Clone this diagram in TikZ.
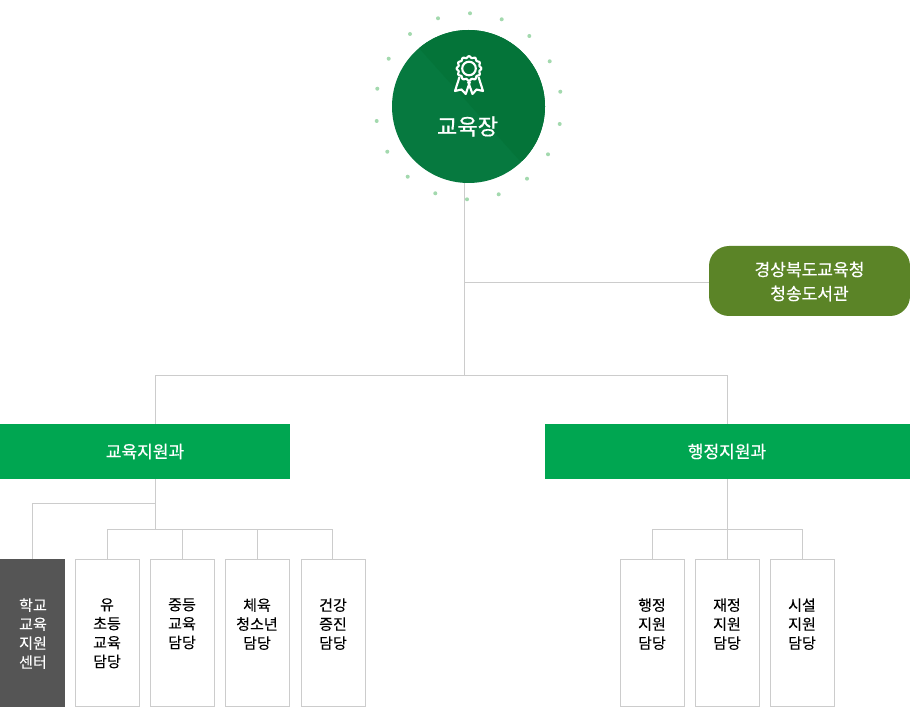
\documentclass[tikz,border=0pt]{standalone}
\usepackage{fontspec}
\setmainfont{Noto Sans CJK KR}
\newfontfamily\medfont[FakeBold=0.5]{Noto Sans CJK KR}
\newfontfamily\stafffont[FakeBold=0.15]{Noto Sans CJK KR}
\usetikzlibrary{backgrounds,positioning}

\definecolor{headgreen}{HTML}{06793F}
\definecolor{headdark}{HTML}{047439}
\definecolor{dotgreen}{HTML}{A3D9AE}
\definecolor{linegray}{HTML}{CCCCCC}
\definecolor{deptgreen}{HTML}{00A651}
\definecolor{libgreen}{HTML}{5B8427}
\definecolor{centergray}{HTML}{555555}

\tikzset{
  head/.style={circle,fill=headgreen,minimum size=114.75pt,inner sep=0pt,outer sep=0pt},
  headtext/.style={text=white,font=\medfont\fontsize{16.6pt}{18pt}\selectfont},
  dept/.style={anchor=north west,fill=deptgreen,minimum height=41.25pt,inner sep=0pt,outer sep=0pt},
  depttext/.style={text=white,font=\medfont\fontsize{12.8pt}{14pt}\selectfont},
  lib/.style={anchor=north west,fill=libgreen,rounded corners=15pt,minimum width=150.75pt,minimum height=52.5pt,inner sep=0pt,outer sep=0pt},
  libtext/.style={text=white,align=center,inner sep=0pt,font=\medfont\fontsize{12.8pt}{18pt}\selectfont},
  staff/.style={anchor=north west,draw=linegray,fill=white,line width=.75pt,minimum width=48pt,minimum height=110.25pt,inner sep=0pt,outer sep=0pt},
  centerbox/.style={anchor=north west,fill=centergray,minimum width=48.75pt,minimum height=111pt,inner sep=0pt,outer sep=0pt},
  stafftext/.style={anchor=north,inner sep=0pt,align=center,font=\stafffont\fontsize{11.3pt}{14.25pt}\selectfont},
  conn/.style={draw=linegray,line width=.75pt}
}

\begin{document}
\begin{tikzpicture}[x=.75pt,y=-.75pt]
  \useasboundingbox (0,0) rectangle (910,716);

  % Head
  \node[head,path picture={
    \fill[headdark] ([shift={(-50.5,-59.5)}]path picture bounding box.center) -- ++(102,114) -- ++(60,0) -- ++(0,-200) -- ++(-160,0) -- cycle;
  }] (chief) at (468.5,106.5) {};
  \node[headtext] (chieftext) at (467.5,126.5) {교육장};

  % Ribbon
  \draw[white,line width=1.6pt,smooth,samples=96,domain=0:360] plot ({469+(11.5+.8*cos(12*\x))*cos(\x)},{68.5+(11.5+.8*cos(12*\x))*sin(\x)});
  \draw[white,line width=1.6pt] (469,68.5) circle (6.8);
  \draw[white,line width=1.6pt,line join=round] (459.5,77) -- (455,91) -- (461.5,89.5) -- (465.7,94) -- (470,81.5);
  \draw[white,line width=1.6pt,line join=round] (478.5,77) -- (483,91) -- (476.5,89.5) -- (472.5,94) -- (468,81.5);

  % Dots
  \fill[dotgreen] (470,13.3) circle (2) (501.7,19.3) circle (2) (529.3,36) circle (2) (549.7,61.3) circle (2)
    (560.3,91.7) circle (2) (559.7,124) circle (2) (548,154.3) circle (2) (527,178.7) circle (2)
    (498.7,194.3) circle (2) (467,199.3) circle (2) (435.3,193.3) circle (2) (407.7,176.7) circle (2)
    (387.3,151.7) circle (2) (376.7,121) circle (2) (377.3,88.7) circle (2) (388.7,58.7) circle (2)
    (410,34) circle (2) (438,18.3) circle (2);

  % Library
  \node[lib] (library) at (709,246) {};
  \node[libtext] (libraryText) at (809.5,281.5) {경상북도교육청\\청송도서관};

  % Departments
  \node[dept,minimum width=217.5pt] (eduDept) at (0,424) {};
  \node[dept,minimum width=273.75pt] (adminDept) at (545,424) {};
  \node[depttext] (eduDeptText) at (145,451.5) {교육지원과};
  \node[depttext] (adminDeptText) at (727,451.5) {행정지원과};

  % Staff boxes
  \node[centerbox] (school) at (0,559) {};
  \node[staff] (elem) at (75.5,559.5) {};
  \node[staff] (middle) at (150.5,559.5) {};
  \node[staff] (youth) at (225.5,559.5) {};
  \node[staff] (health) at (301.5,559.5) {};
  \node[staff] (admin) at (620.5,559.5) {};
  \node[staff] (finance) at (695.5,559.5) {};
  \node[staff] (facility) at (770.5,559.5) {};

  % Staff texts
  \node[stafftext,text=white] (schoolText) at (33,598) {학교\\교육\\지원\\센터};
  \node[stafftext] (elemText) at (107,598) {유\\초등\\교육\\담당};
  \node[stafftext] (middleText) at (182,598) {중등\\교육\\담당};
  \node[stafftext] (youthText) at (257,598) {체육\\청소년\\담당};
  \node[stafftext] (healthText) at (333,598) {건강\\증진\\담당};
  \node[stafftext] (adminText) at (652,598) {행정\\지원\\담당};
  \node[stafftext] (financeText) at (727,598) {재정\\지원\\담당};
  \node[stafftext] (facilityText) at (802,598) {시설\\지원\\담당};

  % Junctions
  \coordinate (trunk) at (464.5,375.5);
  \coordinate (libraryJoin) at (709,282.5);
  \coordinate (eduTop) at (155.5,375.5);
  \coordinate (adminTop) at (727.5,375.5);
  \coordinate (eduFork) at (155.5,529.5);
  \coordinate (schoolFork) at (155.5,503.5);
  \coordinate (adminFork) at (727.5,529.5);
  \coordinate (healthDrop) at (332.5,559.5);

  % Lines
  \begin{scope}[on background layer]
    \draw[conn] (trunk) -- (trunk |- chief.center);
    \draw[conn] (trunk |- libraryJoin) -- (libraryJoin);
    \draw[conn] (eduTop |- eduDept.north) -- (eduTop) -- (adminTop) -- (adminTop |- adminDept.north);
    \draw[conn] (eduTop |- eduDept.south) -- (eduFork);
    \draw[conn] (schoolFork) -- (schoolFork -| school.north) -- (school.north);
    \draw[conn] (elem.north) -- (elem.north |- eduFork) -- (healthDrop |- eduFork) -- (healthDrop);
    \draw[conn] (middle.north) -- (middle.north |- eduFork);
    \draw[conn] (youth.north) -- (youth.north |- eduFork);
    \draw[conn] (adminDept.south) -- (finance.north);
    \draw[conn] (admin.north) -- (admin.north |- adminFork) -- (facility.north |- adminFork) -- (facility.north);
  \end{scope}
\end{tikzpicture}
\end{document}
